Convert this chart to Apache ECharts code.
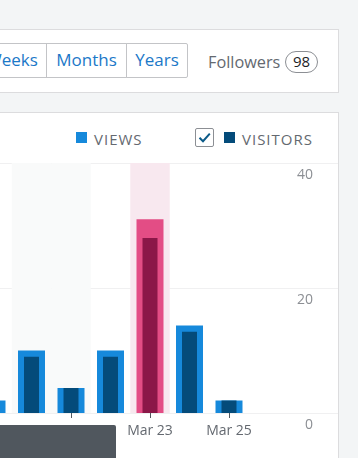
<!DOCTYPE html>
<html><head><meta charset="utf-8">
<script src="https://cdn.jsdelivr.net/npm/echarts@6/dist/echarts.min.js"></script>
<style>
html,body{margin:0;padding:0;width:358px;height:458px;overflow:hidden;background:#f3f5f6;font-family:'Open Sans',sans-serif;}
.card{position:absolute;background:#fff;border:1px solid #dcdcde;box-sizing:border-box;}
.btn{position:absolute;top:43px;height:35px;box-sizing:border-box;border:1px solid #c3c4c7;background:#fff;color:#1b78c8;font-size:17px;line-height:32px;text-align:center;white-space:nowrap;}
.fol{position:absolute;left:208px;top:49px;font-size:16.3px;color:#646970;line-height:26px;}
.pill{position:absolute;left:285px;top:51px;width:33px;height:22px;box-sizing:border-box;border:1px solid #8c8f94;border-radius:11px;font-size:15px;line-height:19px;text-align:center;color:#1d2327;}
.lg{position:absolute;top:128px;font-size:15px;letter-spacing:1px;color:#646970;line-height:22px;}
.sq{position:absolute;width:11px;height:11px;top:132px;}
.cb{position:absolute;left:195px;top:128px;width:19px;height:19px;box-sizing:border-box;border:1px solid #8c8f94;border-radius:2px;background:#fff;}
.tip{position:absolute;left:0;top:425px;width:116px;height:40px;background:#50575e;border-top-right-radius:2px;z-index:10;}
#chart{position:absolute;left:0;top:0;width:358px;height:458px;z-index:5;}
</style></head><body>
<div class="card" style="left:-10px;top:29px;width:349px;height:64px;"></div>
<div class="btn" style="left:-23px;width:70px;border-radius:2px 0 0 2px;">Weeks</div>
<div class="btn" style="left:46px;width:81px;">Months</div>
<div class="btn" style="left:126px;width:62px;border-radius:0 2px 2px 0;">Years</div>
<div class="fol">Followers</div>
<div class="pill">98</div>
<div class="card" style="left:-10px;top:112px;width:349px;height:400px;"></div>
<div class="sq" style="left:76px;background:#1689db;"></div>
<div class="lg" style="left:94px;">VIEWS</div>
<div class="cb"><svg width="17" height="17" viewBox="0 0 17 17" style="position:absolute;left:0;top:0"><path d="M3.5 8.8 L7 12.2 L13.8 4.6" fill="none" stroke="#0b5a88" stroke-width="2"/></svg></div>
<div class="sq" style="left:224px;background:#044b7a;"></div>
<div class="lg" style="left:242px;">VISITORS</div>
<div id="chart"></div>
<div class="tip"></div>
<script>
const categories = ['Mar 19','Mar 20','Mar 21','Mar 22','Mar 23','Mar 24','Mar 25'];
const views = [2, 10, 4, 10, 31, 14, 2];
const visitors = [2, 9, 4, 9, 28, 13, 2];
const weekend = [false, true, true, false, false, false, false];
const selectedIndex = 4;
const yMin = 0, yMax = 40, yInterval = 20;

const C = {
  views: '#1689db', visitors: '#044b7a',
  viewsSel: '#e34d85', visitorsSel: '#8b1748',
  weekendBg: '#f9fafa', selBg: '#f8e8ef'
};

const shadeData = categories.map((c, i) => {
  if (i === selectedIndex) return { value: yMax, itemStyle: { color: C.selBg } };
  if (weekend[i]) return { value: yMax, itemStyle: { color: C.weekendBg } };
  return null;
});
const viewsData = views.map((v, i) => ({ value: v, itemStyle: { color: i === selectedIndex ? C.viewsSel : C.views } }));
const visitorsData = visitors.map((v, i) => ({ value: v, itemStyle: { color: i === selectedIndex ? C.visitorsSel : C.visitors } }));

const chart = echarts.init(document.getElementById('chart'), null, { renderer: 'canvas' });
const font = "'Open Sans', sans-serif";
chart.setOption({
  animation: false,
  backgroundColor: 'transparent',
  textStyle: { fontFamily: font },
  grid: [
    { left: -27.75, width: 276.5, top: 163, bottom: 45, outerBoundsMode: 'none', containLabel: false },
    { left: 0, right: 20, top: 163, bottom: 45, outerBoundsMode: 'none', containLabel: false }
  ],
  xAxis: [
    { gridIndex: 0, type: 'category', data: categories, boundaryGap: true,
      axisLine: { show: false },
      axisTick: { show: true, alignWithLabel: true, interval: 1, length: 5, lineStyle: { color: '#50575e', width: 1 } },
      axisLabel: { interval: 1, margin: 11, color: '#646970', fontSize: 14, fontFamily: font },
      splitLine: { show: false } },
    { gridIndex: 0, type: 'category', data: categories, show: false },
    { gridIndex: 0, type: 'category', data: categories, show: false },
    { gridIndex: 1, type: 'category', data: [''], show: false }
  ],
  yAxis: [
    { gridIndex: 0, type: 'value', min: yMin, max: yMax, interval: yInterval, show: false },
    { gridIndex: 1, type: 'value', position: 'right', min: yMin, max: yMax, interval: yInterval,
      axisLine: { show: false }, axisTick: { show: false },
      splitLine: { show: true, lineStyle: { color: '#f0f0f1', width: 1 } },
      axisLabel: { inside: true, margin: 25, color: '#8c8f94', fontSize: 14, fontFamily: font,
        verticalAlign: 'top', padding: [5, 0, 0, 0] } }
  ],
  series: [
    { type: 'bar', name: 'shade', xAxisIndex: 2, yAxisIndex: 0, data: shadeData, barWidth: '100%', silent: true, z: 1 },
    { type: 'bar', name: 'Views', xAxisIndex: 0, yAxisIndex: 0, data: viewsData, barWidth: 27, z: 2 },
    { type: 'bar', name: 'Visitors', xAxisIndex: 1, yAxisIndex: 0, data: visitorsData, barWidth: 15, z: 3 }
  ]
});
</script>
</body></html>
